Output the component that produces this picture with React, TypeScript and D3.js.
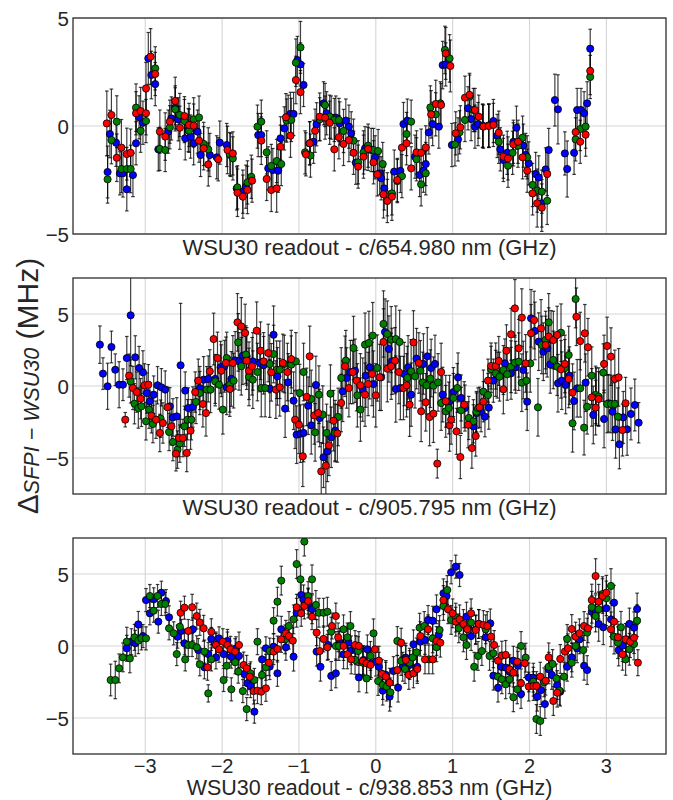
import React from "react";
import * as d3 from "d3";

type P = [number, number, number];

const xTicks = [-3, -2, -1, 0, 1, 2, 3];
const yTicks = [-5, 0, 5];
const xLabels = [
  "WSU30 readout - c/654.980 nm (GHz)",
  "WSU30 readout - c/905.795 nm (GHz)",
  "WSU30 readout - c/938.853 nm (GHz)",
];
const yDomains: [number, number][] = [[-5, 5], [-7.5, 7.5], [-7.5, 7.5]];
const seriesColors = ["blue", "green", "red"];

const p1Red: P[] = [[-3.50,0.12,1.5],[-3.44,0.51,1.2],[-3.37,-1.47,1.1],[-3.31,-1.00,1.3],[-3.24,-1.30,1.2],[-3.19,-1.24,1.1],[-3.12,0.59,1.0],[-3.06,0.69,1.1],[-2.99,1.74,1.2],[-2.99,0.59,1.0],[-2.93,3.21,1.3],[-2.87,2.41,1.0],[-2.81,-0.26,1.0],[-2.74,-0.49,1.1],[-2.68,0.20,1.0],[-2.61,1.16,1.1],[-2.55,-0.08,1.0],[-2.49,0.46,0.9],[-2.43,0.05,1.0],[-2.37,0.02,1.0],[-2.30,-0.68,1.0],[-2.24,-1.03,1.0],[-2.18,-1.78,1.0],[-2.05,-1.54,1.0],[-1.93,-1.11,1.1],[-1.86,-1.27,1.0],[-1.80,-3.09,1.1],[-1.73,-3.27,1.0],[-1.67,-2.96,1.1],[-1.61,-2.53,1.0],[-1.49,-0.68,1.1],[-1.42,-2.45,1.0],[-1.36,-2.96,1.0],[-1.29,-2.89,1.1],[-1.24,-0.96,1.0],[-1.17,0.40,1.1],[-1.11,-0.45,1.0],[-1.04,2.13,1.1],[-0.98,1.57,1.0],[-0.91,-1.31,1.0],[-0.86,-0.80,1.0],[-0.79,-0.22,1.0],[-0.73,0.43,1.1],[-0.66,0.39,1.0],[-0.60,0.15,1.0],[-0.54,-1.08,1.0],[-0.48,-0.52,1.0],[-0.42,-0.83,1.0],[-0.35,-0.65,1.0],[-0.29,-1.24,1.0],[-0.23,-1.88,1.0],[-0.16,-1.42,1.0],[-0.10,-1.06,1.0],[-0.03,-1.68,1.0],[0.02,-2.24,1.0],[0.10,-3.16,1.1],[0.15,-3.47,1.0],[0.21,-3.27,1.1],[0.28,-2.50,1.0],[0.34,-1.00,1.1],[0.40,-0.80,1.0],[0.46,-1.96,1.0],[0.53,-1.22,1.0],[0.59,-1.24,1.1],[0.65,-0.99,1.0],[0.72,0.54,1.1],[0.78,1.02,1.1],[0.85,0.97,1.0],[0.91,3.36,1.2],[0.97,2.78,1.2],[1.04,-0.34,1.0],[1.10,-0.06,1.0],[1.16,1.31,1.0],[1.22,1.44,1.0],[1.29,0.74,1.0],[1.34,0.43,1.0],[1.40,-0.03,1.0],[1.47,0.00,1.0],[1.53,0.05,1.0],[1.60,-0.31,1.0],[1.66,-1.42,1.0],[1.72,-1.50,1.0],[1.79,-0.85,1.0],[1.85,-0.73,1.0],[1.91,-1.45,1.0],[1.97,-2.07,1.0],[2.04,-3.12,1.0],[2.10,-3.58,1.1],[2.16,-3.78,1.1],[2.23,-2.22,1.0],[2.60,-0.28,1.0],[2.66,-0.73,1.0],[2.73,-0.40,1.0],[2.79,2.55,1.1]];
const p1Green: P[] = [[-3.49,-2.47,1.1],[-3.44,-0.65,1.1],[-3.37,0.20,1.2],[-3.31,-1.99,1.1],[-3.24,-1.99,1.0],[-3.19,-1.99,1.1],[-3.12,0.85,1.1],[-3.06,-0.22,1.0],[-2.99,0.23,1.0],[-2.87,2.67,1.0],[-2.81,-1.06,1.0],[-2.74,-1.11,1.0],[-2.68,-0.06,1.0],[-2.61,0.77,1.0],[-2.55,0.51,1.0],[-2.49,0.23,1.0],[-2.43,-0.22,1.0],[-2.37,0.31,1.0],[-2.30,0.39,1.0],[-2.24,-0.83,1.0],[-2.18,-1.08,1.0],[-1.90,-1.30,1.0],[-1.86,-1.50,1.0],[-1.80,-2.84,1.0],[-1.67,-2.61,1.0],[-1.62,-2.35,1.0],[-1.54,-0.03,1.0],[-1.49,0.20,1.0],[-1.42,-1.22,1.0],[-1.36,-1.85,1.0],[-1.29,-1.62,1.0],[-1.23,-1.76,1.0],[-1.16,0.25,1.0],[-1.10,0.28,1.0],[-1.04,2.93,1.1],[-0.98,3.64,1.2],[-0.92,-1.22,1.0],[-0.85,-1.37,1.0],[-0.73,0.31,1.0],[-0.66,0.97,1.0],[-0.60,0.43,1.0],[-0.54,0.28,1.0],[-0.48,0.28,1.0],[-0.42,-0.23,1.0],[-0.29,-0.68,1.0],[-0.23,-1.68,1.0],[-0.16,-1.22,1.0],[-0.10,-0.91,1.0],[-0.03,-1.11,1.0],[0.03,-1.16,1.0],[0.09,-1.76,1.0],[0.15,-3.16,1.0],[0.21,-3.12,1.0],[0.28,-2.55,1.0],[0.34,-2.32,1.0],[0.40,-0.37,1.0],[0.46,0.20,1.0],[0.53,-1.54,1.0],[0.59,-2.70,1.0],[0.65,-2.19,1.0],[0.71,0.86,1.0],[0.78,0.54,1.0],[0.84,1.05,1.0],[0.90,3.52,1.1],[0.96,3.13,1.1],[1.03,-0.85,1.0],[1.09,-0.29,1.0],[1.16,0.28,1.0],[1.22,1.36,1.0],[1.27,0.74,1.0],[1.39,0.00,1.0],[1.47,0.02,1.0],[1.60,-0.73,1.0],[1.72,-1.84,1.0],[1.78,-1.24,1.0],[1.85,-0.91,1.0],[1.91,-0.54,1.0],[1.97,-1.45,1.0],[2.04,-2.73,1.0],[2.10,-2.99,1.0],[2.16,-3.04,1.0],[2.23,-3.46,1.1],[2.60,-0.62,1.0],[2.66,-0.14,1.0],[2.73,-0.03,1.0],[2.79,2.27,1.0]];
const p1Blue: P[] = [[-3.49,-2.13,1.2],[-3.46,-0.37,1.1],[-3.38,-0.77,1.1],[-3.33,-2.19,1.0],[-3.29,-2.19,1.1],[-3.24,-2.93,1.0],[-3.16,-2.27,1.0],[-3.12,-0.80,1.0],[-3.08,0.40,1.0],[-3.03,0.15,1.0],[-2.96,3.13,1.2],[-2.92,2.36,1.1],[-2.87,1.94,1.0],[-2.83,-1.08,1.0],[-2.70,-0.26,1.0],[-2.66,0.35,1.0],[-2.61,0.86,1.0],[-2.57,0.31,1.0],[-2.48,-0.57,1.0],[-2.44,-0.19,1.0],[-2.41,-0.49,1.0],[-2.37,-0.80,1.0],[-2.32,-0.26,1.0],[-2.28,-1.34,1.0],[-2.16,-1.34,1.0],[-2.07,-1.45,1.0],[-2.03,-0.77,1.0],[-1.94,-0.88,1.0],[-1.89,-1.34,1.0],[-1.81,-2.89,1.0],[-1.73,-3.04,1.0],[-1.69,-2.81,1.0],[-1.53,-0.42,1.0],[-1.49,-0.42,1.0],[-1.40,-1.96,1.0],[-1.34,-2.04,1.0],[-1.27,-2.07,1.0],[-1.24,-0.57,1.0],[-1.19,-0.11,1.0],[-1.14,0.43,1.0],[-1.11,0.56,1.0],[-1.07,0.56,1.0],[-1.02,3.05,1.1],[-0.98,2.85,1.0],[-0.94,1.90,1.0],[-0.86,-0.80,1.0],[-0.81,-0.73,1.0],[-0.77,0.08,1.0],[-0.68,1.05,1.0],[-0.64,0.59,1.0],[-0.58,0.39,1.0],[-0.52,0.39,1.0],[-0.47,0.12,1.0],[-0.39,0.25,1.0],[-0.35,-0.03,1.0],[-0.32,-0.34,1.0],[-0.26,-1.70,1.0],[-0.14,-1.03,1.0],[-0.06,-1.11,1.0],[-0.01,-1.45,1.0],[0.05,-2.19,1.0],[0.07,-2.42,1.0],[0.11,-2.89,1.0],[0.24,-2.11,1.0],[0.32,-2.08,1.0],[0.36,0.09,1.0],[0.41,0.25,1.0],[0.51,-1.42,1.0],[0.57,-2.27,1.0],[0.62,-2.07,1.0],[0.65,-1.76,1.0],[0.69,-0.30,1.0],[0.74,0.09,1.0],[0.82,-0.03,1.0],[0.87,2.82,1.1],[0.91,2.85,1.0],[0.99,-0.88,1.0],[1.07,-0.62,1.0],[1.20,0.82,1.0],[1.24,0.32,1.0],[1.29,-0.03,1.0],[1.33,0.09,1.0],[1.39,0.02,1.0],[1.47,0.02,1.0],[1.53,0.23,1.0],[1.58,-0.46,1.0],[1.62,-1.08,1.0],[1.66,-1.57,1.0],[1.71,-1.24,1.0],[1.79,-0.73,1.0],[1.83,-0.08,1.0],[1.92,-0.91,1.0],[1.95,-1.34,1.0],[1.99,-1.73,1.0],[2.08,-2.22,1.0],[2.12,-2.38,1.0],[2.16,-3.58,1.1],[2.21,-2.01,1.0],[2.25,-1.11,1.0],[2.33,1.20,1.2],[2.37,0.77,1.6],[2.46,-1.27,1.0],[2.49,-1.99,1.3],[2.58,-1.24,1.0],[2.62,0.74,1.0],[2.67,0.74,1.0],[2.71,0.59,1.0],[2.75,1.05,1.0],[2.79,3.58,0.9]];

const p2Red: P[] = [[-3.26,-2.34,0.5],[-3.21,0.72,1.5],[-3.16,-0.14,1.5],[-3.11,-0.42,1.4],[-3.06,-0.88,1.4],[-3.01,0.05,1.5],[-2.96,0.09,1.4],[-2.92,-2.06,1.2],[-2.86,-2.34,1.3],[-2.81,-3.26,1.3],[-2.77,-2.57,1.4],[-2.71,-1.48,1.4],[-2.66,-2.80,1.3],[-2.60,-4.70,1.2],[-2.56,-3.61,1.3],[-2.51,-3.61,1.3],[-2.46,-4.65,1.3],[-2.41,-3.10,1.3],[-2.35,-0.42,1.4],[-2.31,0.37,1.5],[-2.25,-1.25,1.6],[-2.21,-1.88,1.6],[-2.16,1.02,1.5],[-2.11,3.26,1.8],[-2.06,1.94,1.8],[-2.01,1.06,1.8],[-1.95,1.60,1.8],[-1.90,-0.21,1.9],[-1.86,1.60,1.9],[-1.80,4.42,2.0],[-1.75,4.14,2.0],[-1.70,3.68,2.0],[-1.68,1.76,2.0],[-1.65,1.06,2.0],[-1.61,1.37,2.0],[-1.55,3.84,2.0],[-1.50,2.45,2.0],[-1.46,1.71,2.0],[-1.40,2.29,2.0],[-1.36,0.95,2.0],[-1.30,-0.25,2.0],[-1.25,-0.09,2.0],[-1.21,1.60,2.0],[-1.15,0.97,2.0],[-1.10,1.87,2.0],[-1.05,-2.34,2.0],[-1.00,-2.69,2.0],[-0.95,-4.88,2.1],[-0.90,-0.76,2.0],[-0.86,2.06,2.1],[-0.80,-2.04,2.0],[-0.75,-1.88,2.0],[-0.71,-5.93,2.0],[-0.65,-5.53,2.1],[-0.61,-4.12,2.1],[-0.55,-2.41,2.1],[-0.50,-3.29,2.0],[-0.45,-1.18,2.0],[-0.40,1.37,2.1],[-0.35,-0.14,2.0],[-0.30,0.97,2.2],[-0.25,0.37,2.1],[-0.20,0.05,2.2],[-0.14,-0.60,2.2],[-0.10,0.14,2.2],[-0.05,0.83,2.2],[0.00,-0.65,2.2],[0.05,0.60,2.3],[0.10,3.06,2.3],[0.15,1.20,2.3],[0.20,1.37,2.3],[0.25,1.76,2.3],[0.30,0.97,2.2],[0.36,-0.14,2.2],[0.40,0.05,2.2],[0.44,-1.30,2.2],[0.49,3.03,2.2],[0.56,1.60,2.1],[0.59,-1.76,2.1],[0.65,-1.13,2.0],[0.70,-2.15,2.0],[0.75,-1.92,2.0],[0.80,-5.39,1.0],[0.85,0.97,2.0],[0.91,-1.06,1.8],[0.96,-2.73,1.8],[0.98,-2.34,1.7],[1.05,-3.15,1.6],[1.10,-4.93,1.5],[1.15,-1.30,1.6],[1.20,-2.69,1.6],[1.25,-4.31,1.4],[1.30,-3.47,1.4],[1.35,-1.48,1.4],[1.40,-1.09,1.4],[1.46,0.37,1.5],[1.50,1.39,1.6],[1.56,1.39,1.6],[1.60,1.74,1.7],[1.66,-0.23,1.7],[1.70,2.45,1.8],[1.76,3.59,1.8],[1.81,5.39,2.0],[1.86,2.62,2.0],[1.90,4.75,2.0],[1.95,1.57,2.0],[2.02,3.66,2.0],[2.06,4.58,2.0],[2.15,4.00,2.0],[2.21,2.85,2.0],[2.25,3.43,2.0],[2.31,3.19,2.0],[2.36,3.54,2.0],[2.41,1.16,2.0],[2.46,1.53,2.0],[2.51,0.49,2.0],[2.56,-0.46,2.0],[2.61,4.81,2.0],[2.66,3.12,2.0],[2.72,3.66,2.0],[2.76,2.69,2.0],[2.81,-0.79,2.0],[2.86,-1.50,1.9],[2.90,-0.90,1.9],[2.97,1.53,2.0],[3.01,2.78,2.0],[3.06,2.04,2.0],[3.11,0.49,2.0],[3.16,0.60,2.0],[3.21,-3.06,1.8],[3.25,-1.20,1.8]];
const p2Green: P[] = [[-3.19,0.32,1.5],[-3.14,-1.23,1.4],[-3.09,-1.53,1.4],[-3.05,-1.41,1.4],[-2.99,-2.45,1.3],[-2.95,-1.64,1.3],[-2.90,-2.64,1.3],[-2.80,-2.27,1.3],[-2.69,-3.19,1.3],[-2.64,-3.89,1.3],[-2.58,-4.42,1.3],[-2.55,-4.00,1.3],[-2.49,-2.80,1.4],[-2.45,-2.34,1.4],[-2.40,-2.34,1.4],[-2.34,-1.11,1.5],[-2.29,-0.49,1.5],[-2.20,-0.25,1.6],[-2.15,-0.25,1.6],[-2.09,0.32,1.7],[-2.04,0.09,1.7],[-1.99,-1.64,1.7],[-1.94,1.94,1.8],[-1.90,0.09,1.9],[-1.85,0.37,1.9],[-1.79,3.03,2.0],[-1.75,1.37,2.0],[-1.69,2.18,2.0],[-1.65,0.63,2.0],[-1.60,0.44,2.0],[-1.54,0.97,2.0],[-1.49,-0.14,2.0],[-1.44,-0.14,2.0],[-1.38,1.53,2.0],[-1.33,2.22,2.0],[-1.29,1.13,2.0],[-1.25,1.13,2.0],[-1.19,1.53,2.0],[-1.10,1.48,2.0],[-1.04,1.71,2.0],[-0.99,-0.49,2.0],[-0.94,0.97,2.0],[-0.84,-0.90,2.0],[-0.79,-3.22,2.0],[-0.74,-0.60,2.0],[-0.69,-1.99,2.0],[-0.64,-3.26,2.0],[-0.59,-0.53,2.0],[-0.53,-3.26,2.0],[-0.49,-2.15,2.0],[-0.45,0.56,2.1],[-0.39,1.76,2.1],[-0.29,2.64,2.2],[-0.24,-0.65,2.2],[-0.20,-1.64,2.2],[-0.14,2.87,2.2],[-0.09,2.99,2.2],[-0.04,3.50,2.3],[0.02,1.25,2.3],[0.10,4.31,2.3],[0.15,3.61,2.3],[0.20,3.22,2.3],[0.26,3.26,2.3],[0.31,3.06,2.2],[0.41,0.56,2.2],[0.46,1.02,2.2],[0.51,0.67,2.2],[0.58,1.06,2.1],[0.61,0.25,2.1],[0.66,0.05,2.0],[0.71,0.51,2.0],[0.75,0.02,2.0],[0.81,0.25,2.0],[0.85,-1.18,1.9],[0.91,-1.76,1.8],[0.95,-1.53,1.8],[1.01,-0.83,1.7],[1.06,-0.14,1.7],[1.11,-1.69,1.6],[1.21,-2.22,1.5],[1.27,-2.45,1.5],[1.31,-1.78,1.4],[1.33,-1.53,1.4],[1.40,-0.39,1.5],[1.46,-0.63,1.5],[1.50,1.16,1.6],[1.56,0.88,1.6],[1.61,0.65,1.7],[1.66,1.11,1.7],[1.71,0.81,1.8],[1.76,1.34,1.8],[1.81,1.62,1.9],[1.86,1.69,2.0],[1.90,0.23,2.0],[1.96,0.37,2.0],[2.01,1.57,2.0],[2.11,-1.48,2.0],[2.16,2.85,2.0],[2.21,3.19,2.0],[2.25,4.42,2.0],[2.31,1.81,2.0],[2.36,1.34,2.0],[2.41,3.70,2.0],[2.46,1.23,2.0],[2.51,2.15,2.0],[2.56,-2.59,2.0],[2.60,6.04,2.0],[2.66,-0.16,2.0],[2.71,-2.89,1.9],[2.75,-1.44,1.9],[2.81,0.72,2.0],[2.86,-0.62,2.0],[2.90,-0.74,2.0],[2.96,0.93,2.0],[3.01,-1.25,2.0],[3.06,-1.25,2.0],[3.11,-1.25,2.0],[3.15,-2.13,2.0]];
const p2Blue: P[] = [[-3.59,2.87,1.3],[-3.55,0.86,1.1],[-3.49,-0.02,1.6],[-3.44,2.71,1.1],[-3.39,1.13,1.1],[-3.34,0.09,1.6],[-3.29,0.09,1.1],[-3.24,1.94,1.5],[-3.19,4.91,3.5],[-3.13,1.99,1.5],[-3.08,1.25,1.5],[-3.03,0.95,1.5],[-2.98,-0.49,1.4],[-2.94,-1.06,1.3],[-2.89,-0.60,1.3],[-2.84,0.05,1.3],[-2.79,-0.09,1.3],[-2.74,-0.25,1.3],[-2.68,-1.41,1.3],[-2.64,-2.18,1.3],[-2.59,-2.11,1.3],[-2.54,1.44,4.3],[-2.48,-0.32,1.3],[-2.44,-1.53,1.4],[-2.38,-1.46,1.4],[-2.29,-0.14,1.5],[-2.24,0.44,1.6],[-2.18,0.49,1.6],[-2.09,0.49,1.7],[-2.02,1.30,1.8],[-1.97,1.37,1.8],[-1.94,-0.09,1.9],[-1.88,0.49,1.9],[-1.83,1.78,2.0],[-1.78,1.71,2.0],[-1.73,2.11,2.0],[-1.68,2.06,2.0],[-1.60,1.71,2.0],[-1.51,1.60,2.0],[-1.46,1.44,2.0],[-1.38,-0.18,2.0],[-1.33,3.56,2.0],[-1.28,0.67,2.0],[-1.18,-1.57,2.0],[-1.14,0.25,2.0],[-1.07,-1.02,2.0],[-1.03,-3.38,2.0],[-0.98,-3.31,2.0],[-0.94,-3.26,2.0],[-0.88,-1.37,2.0],[-0.84,-2.73,2.0],[-0.78,0.07,2.0],[-0.73,-2.22,2.0],[-0.68,-4.95,2.1],[-0.63,-4.54,2.1],[-0.58,-3.56,2.1],[-0.53,-3.10,2.1],[-0.43,-0.37,2.1],[-0.38,0.56,2.1],[-0.33,0.97,2.2],[-0.27,1.06,2.2],[-0.17,-0.25,2.2],[-0.13,0.72,2.2],[-0.08,1.30,2.2],[-0.03,0.14,2.3],[0.07,0.60,2.3],[0.12,3.75,2.3],[0.17,2.57,2.3],[0.21,1.71,2.3],[0.26,-0.21,2.3],[0.32,-0.14,2.2],[0.37,0.83,2.2],[0.42,1.30,2.2],[0.46,-0.60,2.2],[0.53,1.90,2.1],[0.62,1.53,2.1],[0.67,2.06,2.0],[0.72,1.25,2.0],[0.77,1.53,2.0],[0.87,-0.60,1.9],[0.96,-1.06,1.8],[1.01,-0.42,1.7],[1.07,0.60,1.7],[1.11,-0.83,1.6],[1.16,-1.53,1.6],[1.27,-2.80,1.5],[1.31,-1.88,1.4],[1.37,-1.78,1.4],[1.42,-2.13,1.4],[1.47,-1.50,1.5],[1.53,0.37,1.5],[1.58,0.76,1.6],[1.68,1.57,1.7],[1.76,0.88,1.8],[1.82,1.30,1.8],[1.92,1.11,2.0],[1.97,-1.09,2.0],[2.02,4.70,2.0],[2.07,3.82,2.0],[2.12,3.08,2.0],[2.18,2.38,2.0],[2.23,2.62,2.0],[2.27,1.50,2.0],[2.28,3.24,2.0],[2.37,0.19,2.0],[2.42,0.37,2.0],[2.47,0.07,2.0],[2.52,0.72,2.0],[2.58,-1.04,2.0],[2.62,-0.16,2.0],[2.73,0.23,2.0],[2.83,-2.01,2.0],[2.87,-0.74,2.0],[2.97,-2.29,2.0],[3.03,-1.20,2.0],[3.08,-1.78,2.0],[3.12,-3.01,2.0],[3.17,-4.05,1.7],[3.22,-2.18,1.8],[3.27,-3.01,1.8],[3.32,-1.94,1.8],[3.37,-1.32,1.8],[3.42,-2.55,1.4]];

const p3Red: P[] = [[-2.54,2.31,0.8],[-2.49,2.66,0.8],[-2.44,1.04,0.8],[-2.39,2.69,0.9],[-2.33,2.08,0.9],[-2.29,1.64,0.9],[-2.24,1.23,0.9],[-2.19,-1.48,0.9],[-2.14,0.99,0.9],[-2.08,0.07,0.9],[-2.04,-0.23,0.9],[-1.99,0.30,0.9],[-1.93,0.07,0.9],[-1.89,-0.23,0.9],[-1.83,-0.39,0.9],[-1.78,0.07,0.9],[-1.72,-1.32,0.9],[-1.68,-1.55,0.9],[-1.64,-2.13,0.9],[-1.59,-3.13,0.9],[-1.54,-3.10,0.9],[-1.49,-3.17,0.9],[-1.43,-2.94,0.9],[-1.39,-1.16,0.9],[-1.33,-0.39,0.9],[-1.28,-0.21,0.9],[-1.23,0.46,0.9],[-1.17,0.88,0.9],[-1.13,0.69,0.9],[-1.08,0.37,0.9],[-1.03,2.69,0.9],[-0.97,2.27,0.9],[-0.93,2.78,0.9],[-0.88,3.12,0.9],[-0.83,2.04,0.9],[-0.77,0.93,0.9],[-0.73,-0.35,0.9],[-0.68,0.49,0.9],[-0.63,-0.09,0.9],[-0.57,1.39,0.9],[-0.52,2.08,0.9],[-0.49,0.60,1.0],[-0.42,0.00,1.0],[-0.37,-0.58,1.0],[-0.32,-0.93,1.0],[-0.27,0.07,1.0],[-0.22,0.00,1.0],[-0.17,-1.04,1.0],[-0.12,-1.20,1.0],[-0.07,-1.32,1.0],[-0.01,-0.23,1.0],[0.04,-1.02,1.0],[0.08,-1.94,1.0],[0.13,-2.13,1.0],[0.18,-2.55,1.0],[0.28,-1.67,1.0],[0.33,0.23,1.0],[0.39,-0.97,1.0],[0.43,-2.01,1.0],[0.49,-1.90,1.0],[0.54,-1.60,1.0],[0.58,0.69,1.0],[0.64,-0.93,1.0],[0.68,1.16,1.0],[0.74,-0.93,1.0],[0.79,0.35,1.0],[0.84,0.23,1.0],[0.88,3.19,1.0],[0.94,2.55,1.0],[1.00,2.27,1.0],[1.04,1.69,1.0],[1.09,1.85,1.0],[1.14,1.53,1.0],[1.19,1.16,1.0],[1.24,2.27,1.0],[1.30,1.11,1.0],[1.34,1.53,1.0],[1.40,1.46,1.0],[1.45,1.39,1.0],[1.50,0.65,1.0],[1.54,0.07,1.0],[1.59,-1.02,1.0],[1.64,-0.67,1.0],[1.69,-0.62,1.0],[1.74,-1.62,1.0],[1.79,-1.85,1.0],[1.84,-1.09,1.0],[1.89,-2.59,1.0],[1.94,-1.20,1.0],[1.99,-2.82,1.0],[2.05,-2.78,1.0],[2.09,-2.78,1.0],[2.14,-2.13,1.0],[2.21,-2.41,1.0],[2.25,-0.79,1.0],[2.31,-3.82,1.0],[2.36,-3.24,1.0],[2.40,-0.90,1.0],[2.46,-0.39,1.0],[2.50,-0.16,1.0],[2.55,1.18,1.0],[2.60,0.65,1.0],[2.65,0.88,1.0],[2.71,1.39,1.0],[2.76,1.23,1.0],[2.81,3.19,1.1],[2.86,4.86,1.2],[2.90,3.08,1.2],[2.95,3.47,1.2],[3.00,3.70,1.2],[3.06,1.16,1.2],[3.10,1.69,1.2],[3.15,0.60,1.1],[3.21,-0.58,1.1],[3.25,0.46,1.1],[3.31,0.30,1.1],[3.36,0.58,1.1],[3.41,-1.16,0.9]];
const p3Green: P[] = [[-3.45,-2.36,1.1],[-3.39,-2.36,1.3],[-3.34,-1.55,1.0],[-3.29,-0.79,1.0],[-3.24,0.30,1.0],[-3.20,-0.86,1.0],[-3.14,0.60,0.9],[-3.09,0.37,0.9],[-3.05,0.53,0.8],[-2.99,0.53,0.8],[-2.94,3.47,0.8],[-2.89,2.45,0.8],[-2.84,3.47,0.8],[-2.79,2.92,0.8],[-2.74,2.92,0.8],[-2.69,1.23,0.8],[-2.63,0.88,0.8],[-2.59,-0.56,0.8],[-2.55,1.34,0.8],[-2.48,-0.93,0.8],[-2.44,0.07,0.8],[-2.39,0.07,0.8],[-2.33,-0.09,0.8],[-2.29,-1.27,0.8],[-2.23,-0.39,0.8],[-2.18,-3.29,0.6],[-2.14,-0.93,0.8],[-2.08,0.07,0.8],[-1.98,-2.36,0.8],[-1.94,-1.37,0.8],[-1.88,-3.01,0.8],[-1.83,-1.13,0.8],[-1.79,-1.78,0.8],[-1.73,-3.13,0.8],[-1.68,-4.38,0.8],[-1.63,-1.90,0.8],[-1.58,-2.36,0.8],[-1.54,0.30,0.9],[-1.48,-2.01,0.9],[-1.43,-1.48,0.9],[-1.38,-0.35,0.9],[-1.33,1.76,0.9],[-1.28,3.08,1.0],[-1.23,4.54,1.0],[-1.18,0.46,1.0],[-1.13,1.39,1.0],[-1.07,1.85,1.0],[-1.03,5.69,1.0],[-0.98,4.63,1.0],[-0.93,7.25,1.0],[-0.88,3.47,1.0],[-0.83,4.63,1.0],[-0.78,2.85,1.0],[-0.74,2.31,1.0],[-0.68,2.31,1.0],[-0.63,2.38,1.0],[-0.58,1.00,1.0],[-0.52,0.00,1.0],[-0.48,0.00,1.0],[-0.42,1.16,1.0],[-0.37,0.60,1.0],[-0.33,1.39,1.0],[-0.27,-0.97,1.0],[-0.23,-0.35,1.0],[-0.17,-1.16,1.0],[-0.12,-2.25,1.0],[-0.07,-0.69,1.0],[-0.03,0.88,1.0],[0.03,-2.43,1.0],[0.09,-2.71,1.0],[0.14,-2.82,1.0],[0.19,-3.22,1.0],[0.28,0.35,1.0],[0.33,-1.04,1.0],[0.38,-1.60,1.0],[0.44,-1.16,1.0],[0.48,-0.79,1.0],[0.53,-0.44,1.0],[0.57,1.27,1.0],[0.63,1.39,1.0],[0.69,-0.93,1.0],[0.74,0.53,1.0],[0.79,-0.09,1.0],[0.83,1.11,1.0],[0.88,2.78,1.0],[0.93,3.89,1.0],[0.98,1.81,1.0],[1.04,1.97,1.0],[1.08,1.23,1.0],[1.14,0.60,1.0],[1.18,0.07,1.0],[1.24,1.62,1.0],[1.28,-1.44,1.0],[1.33,-0.69,1.0],[1.38,-0.35,1.0],[1.43,1.16,1.0],[1.48,-0.69,1.0],[1.53,-0.51,1.0],[1.59,-2.13,1.0],[1.64,-2.31,1.0],[1.69,-2.66,1.0],[1.74,-2.31,1.0],[1.79,-3.56,1.0],[1.84,-3.01,1.0],[1.89,0.00,1.0],[1.95,-0.81,1.0],[2.05,-2.48,1.0],[2.09,-5.07,1.0],[2.14,-5.21,1.0],[2.19,-2.52,1.0],[2.25,-1.44,1.0],[2.30,-1.25,1.0],[2.35,-2.25,1.0],[2.39,-3.10,1.0],[2.45,-2.13,1.0],[2.49,0.49,1.0],[2.55,-1.16,1.0],[2.60,0.00,1.0],[2.70,-0.28,1.0],[2.75,0.93,1.0],[2.81,2.69,1.1],[2.86,2.08,1.1],[2.90,2.55,1.2],[2.95,3.61,1.2],[3.00,3.31,1.2],[3.06,4.17,1.2],[3.10,0.65,1.2],[3.15,0.23,1.1],[3.19,1.30,1.1],[3.25,-0.93,1.1],[3.30,-0.23,1.1],[3.36,0.14,1.1],[3.40,1.76,1.1]];
const p3Blue: P[] = [[-3.24,-0.16,0.9],[-3.18,0.30,0.9],[-3.13,0.19,0.9],[-3.09,1.50,0.9],[-3.03,0.69,0.8],[-2.99,3.19,0.8],[-2.94,2.27,0.8],[-2.89,3.24,0.8],[-2.83,1.69,0.8],[-2.79,3.70,0.8],[-2.73,3.12,0.8],[-2.69,1.99,0.8],[-2.58,0.65,0.8],[-2.53,1.04,0.8],[-2.49,0.19,0.8],[-2.38,1.16,0.8],[-2.31,-0.28,0.8],[-2.23,-1.48,0.8],[-2.18,-0.56,0.8],[-2.14,0.49,0.8],[-2.08,-0.79,0.8],[-2.04,0.53,0.8],[-1.98,-0.56,0.8],[-1.93,0.35,0.8],[-1.88,-0.74,0.8],[-1.82,-0.16,0.8],[-1.78,-0.69,0.8],[-1.71,-1.94,0.8],[-1.67,-2.59,0.8],[-1.63,-2.78,0.8],[-1.58,-4.56,0.8],[-1.48,-0.93,0.8],[-1.43,-0.16,0.8],[-1.38,-1.43,0.9],[-1.33,-0.05,0.9],[-1.28,-1.90,0.9],[-1.23,1.16,0.9],[-1.17,-0.09,0.9],[-1.07,-0.74,1.0],[-1.03,2.31,1.0],[-0.97,3.54,1.0],[-0.94,3.24,1.0],[-0.88,2.96,1.0],[-0.83,2.55,1.0],[-0.77,-0.39,1.0],[-0.72,-1.44,1.0],[-0.62,0.07,1.0],[-0.58,-2.08,1.0],[-0.52,-1.90,1.0],[-0.47,0.23,1.0],[-0.42,-0.58,1.0],[-0.36,0.23,1.0],[-0.32,-0.30,1.0],[-0.26,-0.28,1.0],[-0.22,-2.18,1.0],[-0.16,-0.97,1.0],[-0.11,-0.23,1.0],[-0.06,-1.20,1.0],[0.00,-1.09,1.0],[0.04,-1.44,1.0],[0.09,-3.10,1.0],[0.13,-2.01,1.0],[0.18,-3.52,1.0],[0.23,-1.74,1.0],[0.29,-2.89,1.0],[0.35,-1.44,1.0],[0.39,-0.81,1.0],[0.44,-1.32,1.0],[0.49,0.12,1.0],[0.54,-1.44,1.0],[0.58,0.30,1.0],[0.64,0.42,1.0],[0.68,1.81,1.0],[0.74,1.76,1.0],[0.79,2.55,1.0],[0.82,0.76,1.0],[0.88,3.66,1.0],[0.92,3.47,1.0],[0.98,5.12,0.8],[1.04,5.51,0.8],[1.09,4.93,0.8],[1.18,2.04,1.0],[1.24,0.69,1.0],[1.30,1.16,1.0],[1.34,1.53,1.0],[1.43,0.60,1.0],[1.49,1.57,1.0],[1.53,-2.06,1.0],[1.59,-2.89,1.0],[1.63,-1.44,1.0],[1.69,-1.50,1.0],[1.74,-1.78,1.0],[1.79,-1.02,1.0],[1.85,-1.37,1.0],[1.89,-3.33,1.0],[1.99,-2.18,1.0],[2.05,-2.20,1.0],[2.10,-3.52,1.0],[2.15,-3.06,1.0],[2.20,-4.03,1.0],[2.25,-1.62,1.0],[2.29,-2.01,1.0],[2.36,-2.71,1.0],[2.40,-3.17,1.0],[2.49,-1.44,1.0],[2.55,-0.79,1.0],[2.62,-0.16,1.0],[2.65,0.46,1.0],[2.71,-1.37,1.0],[2.75,-1.67,1.0],[2.81,2.38,1.1],[2.86,2.45,1.1],[2.90,1.53,1.2],[2.96,1.30,1.2],[3.00,2.62,1.2],[3.06,1.85,1.2],[3.10,3.01,1.2],[3.16,-0.28,1.1],[3.21,0.02,1.1],[3.26,0.46,1.1],[3.30,1.53,1.1],[3.36,1.27,1.1],[3.40,2.57,1.1]];

const panels: P[][][] = [
  [p1Blue, p1Green, p1Red],
  [p2Blue, p2Green, p2Red],
  [p3Blue, p3Green, p3Red],
];

const W = 673;
const H = 800;
const left = 73;
const right = 666;
const tops = [18, 278, 538];
const ph = 216;
const font = "'Liberation Sans', Arial, sans-serif";
const textColor = "#262626";

const x = d3.scaleLinear().domain([-3.94, 3.776]).range([left, right]);

function Panel({ i }: { i: number }) {
  const top = tops[i];
  const y = d3.scaleLinear().domain(yDomains[i]).range([top + ph, top]);
  const series = panels[i];
  return (
    <g>
      <defs>
        <clipPath id={`clip${i}`}>
          <rect x={left} y={top} width={right - left} height={ph} />
        </clipPath>
      </defs>
      {xTicks.map((t) => (
        <line key={`gx${t}`} x1={x(t)} x2={x(t)} y1={top} y2={top + ph} stroke="#d6d6d6" strokeWidth={1.1} />
      ))}
      {yTicks.map((t) => (
        <line key={`gy${t}`} x1={left} x2={right} y1={y(t)} y2={y(t)} stroke="#d6d6d6" strokeWidth={1.1} />
      ))}
      <g clipPath={`url(#clip${i})`}>
        {series.map((s, si) => (
          <g key={`e${si}`} stroke="#000" strokeOpacity={0.75} strokeWidth={1.2}>
            {s.map((d, k) => {
              const cx = x(d[0]);
              const y1 = y(d[1] - d[2]);
              const y2 = y(d[1] + d[2]);
              return (
                <g key={k}>
                  <line x1={cx} x2={cx} y1={y1} y2={y2} />
                  <line x1={cx - 1.8} x2={cx + 1.8} y1={y1} y2={y1} />
                  <line x1={cx - 1.8} x2={cx + 1.8} y1={y2} y2={y2} />
                </g>
              );
            })}
          </g>
        ))}
        {series.map((s, si) => (
          <g key={`m${si}`} fill={seriesColors[si]} stroke="#000" strokeWidth={0.8}>
            {s.map((d, k) => (
              <circle key={k} cx={x(d[0])} cy={y(d[1])} r={3.6} />
            ))}
          </g>
        ))}
      </g>
      <rect x={left} y={top} width={right - left} height={ph} fill="none" stroke="#262626" strokeWidth={1.25} />
      {yTicks.map((t) => (
        <text key={`ty${t}`} x={left - 4} y={y(t)} textAnchor="end" dominantBaseline="central" fontSize={20.5} fill={textColor} fontFamily={font}>
          {t < 0 ? `\u2212${Math.abs(t)}` : `${t}`}
        </text>
      ))}
      {i === 2 &&
        xTicks.map((t) => (
          <text key={`tx${t}`} x={x(t)} y={top + ph + 12} textAnchor="middle" dominantBaseline="central" fontSize={20} fill={textColor} fontFamily={font}>
            {t < 0 ? `\u2212${Math.abs(t)}` : `${t}`}
          </text>
        ))}
      <text x={(left + right) / 2} y={i === 2 ? top + ph + 34 : top + ph + 13} textAnchor="middle" dominantBaseline="central" fontSize={i === 2 ? 21.5 : 22} fill={textColor} fontFamily={font}>
        {xLabels[i]}
      </text>
    </g>
  );
}

export default function App() {
  return (
    <svg width={W} height={H} style={{ display: "block", position: "absolute", left: 0, top: 0 }}>
      <rect width={W} height={H} fill="#fff" />
      {[0, 1, 2].map((i) => (
        <Panel key={i} i={i} />
      ))}
      <text transform="translate(27,386) rotate(-90)" textAnchor="middle" dominantBaseline="central" fill={textColor} fontFamily={font} fontSize={30}>
        <tspan>Δ</tspan>
        <tspan fontStyle="italic" fontSize={21.5} dy={5}>SFPI − WSU30</tspan>
        <tspan dy={-5}>{"\u00a0(MHz)"}</tspan>
      </text>
    </svg>
  );
}
